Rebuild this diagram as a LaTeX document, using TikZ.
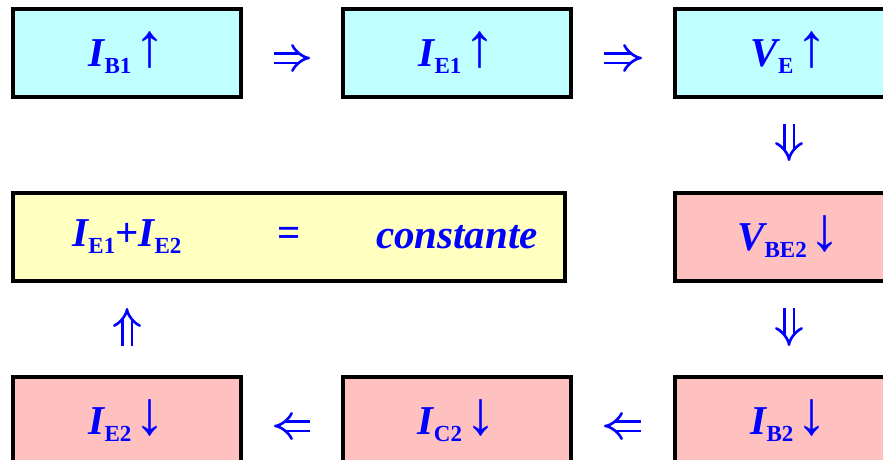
\documentclass[tikz,border=0pt]{standalone}
\usepackage{fontspec}
\setmainfont{Liberation Serif}
\usepackage{xcolor}
\usepackage{tikz}
\usetikzlibrary{arrows.meta, positioning}
\definecolor{blueT}{HTML}{0000FF}
\definecolor{cyanB}{HTML}{C0FFFF}
\definecolor{pinkB}{HTML}{FFC0C0}
\definecolor{yellowB}{HTML}{FFFFC0}
\newcommand\qnt[2]{#1\raisebox{-7pt}{\fontsize{23}{23}\selectfont\bfseries\upshape #2}}
\newcommand\upa{\hspace{3pt}{\fontsize{62}{62}\selectfont\bfseries\upshape ↑}}
\newcommand\dna{\hspace{3pt}{\fontsize{62}{62}\selectfont\bfseries\upshape ↓}}
\tikzset{
  cell/.style={
    draw=black, fill=#1, line width=4pt, inner sep=0pt,
    minimum width=228pt, minimum height=88pt,
    text=blueT, font=\fontsize{41}{46}\selectfont\bfseries\itshape
  },
  txt/.style={inner sep=0pt, text=blueT, font=\fontsize{41}{46}\selectfont\bfseries\itshape},
  imp/.style={-{Implies}, double, double distance=7pt, line width=2.6pt, draw=blueT}
}
\begin{document}
\begin{tikzpicture}[x=1pt, y=1pt, node distance=92pt and 98pt]
  \useasboundingbox (0,0) rectangle (883,-459);
  \clip (0,0) rectangle (883,-459);
  % top row
  \node[cell=cyanB] (ib1) at (127,-53) {\qnt{I}{B1}\upa};
  \node[cell=cyanB, right=of ib1] (ie1) {\qnt{I}{E1}\upa};
  \node[cell=cyanB, right=100pt of ie1] (ve) {\qnt{V}{E}\upa};
  % right column and bottom row
  \node[cell=pinkB, below=of ve] (vbe2) {\qnt{V}{BE2}\dna};
  \node[cell=pinkB, below=of vbe2] (ib2) {\qnt{I}{B2}\dna};
  \node[cell=pinkB, left=100pt of ib2] (ic2) {\qnt{I}{C2}\dna};
  \node[cell=pinkB, left=of ic2] (ie2) {\qnt{I}{E2}\dna};
  % sum box
  \node[cell=yellowB, minimum width=552pt, below=of ib1.south west, anchor=north west] (sum) {};
  \node[txt] (lhs) at (ib1 |- sum) {\qnt{I}{E1}{\upshape +}\qnt{I}{E2}};
  \node[txt, font=\fontsize{41}{46}\selectfont\bfseries] (eq) at (sum) {=};
  \node[txt] (rhs) at (ie1 |- sum) {constante};

  \draw[imp, shorten <=31pt, shorten >=31pt] ([yshift=-5pt]ib1.east) -- ([yshift=-5pt]ie1.west);
  \draw[imp, shorten <=31pt, shorten >=31pt] ([yshift=-5pt]ie1.east) -- ([yshift=-5pt]ve.west);
  \draw[imp, shorten <=25pt, shorten >=30pt] (ve) -- (vbe2);
  \draw[imp, shorten <=25pt, shorten >=29pt] (vbe2) -- (ib2);
  \draw[imp, shorten <=32pt, shorten >=31pt] ([yshift=-5pt]ib2.west) -- ([yshift=-5pt]ic2.east);
  \draw[imp, shorten <=31pt, shorten >=31pt] ([yshift=-5pt]ic2.west) -- ([yshift=-5pt]ie2.east);
  \draw[imp, shorten <=29pt, shorten >=25pt] (ie2.north) -- (ie2 |- sum.south);
\end{tikzpicture}
\end{document}
